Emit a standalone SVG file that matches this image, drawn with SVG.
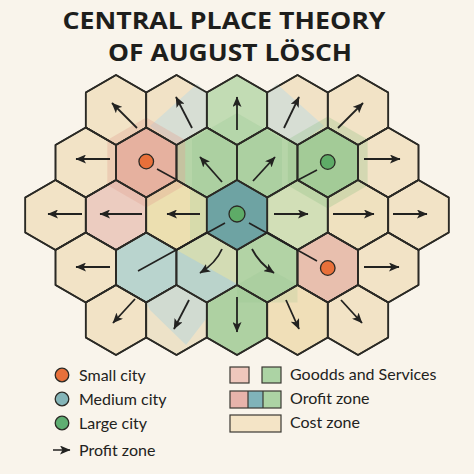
<svg xmlns="http://www.w3.org/2000/svg" xmlns:xlink="http://www.w3.org/1999/xlink" width="474" height="474" viewBox="0 0 474 474">
<style>
.hex{stroke:#2b2a25;stroke-width:1.6;stroke-linejoin:round}
.edge{fill:none;stroke:#2b2a25;stroke-width:1.6;stroke-linejoin:round}
.arr{fill:none;stroke:#222220;stroke-width:1.8;marker-end:url(#ah)}
.ln{fill:none;stroke:#222220;stroke-width:1.6}
.title{font-family:"Open Sans","Liberation Sans",sans-serif;font-weight:700;font-size:23px;fill:#1e1e1c}
.lg{font-family:Lato,"Open Sans","Liberation Sans",sans-serif;font-size:16px;fill:#222220}
.dot{stroke:#2b2a25;stroke-width:1.3}
.sw{stroke:#3a3833;stroke-width:1.2}
</style>
<defs>
<path id="hx" d="M0,-35 L30.25,-17.5 L30.25,17.5 L0,35 L-30.25,17.5 L-30.25,-17.5 Z"/>
<marker id="ah" markerUnits="userSpaceOnUse" markerWidth="11" markerHeight="9" refX="10" refY="4.5" orient="auto">
<path d="M0,0 L10.5,4.5 L0,9 L2.5,4.5 Z" fill="#222220"/>
</marker>
</defs>
<rect width="474" height="474" fill="#f9f4eb"/>
<text class="title" x="224" y="29" text-anchor="middle" textLength="323" lengthAdjust="spacingAndGlyphs">CENTRAL PLACE THEORY</text>
<text class="title" x="230" y="61" text-anchor="middle" textLength="244" lengthAdjust="spacingAndGlyphs">OF AUGUST LÖSCH</text>

<g id="hexes">
<g id="A1"><use xlink:href="#hx" href="#hx" x="116" y="110" class="hex" fill="#f2e3c6"/></g>
<g id="A2"><use xlink:href="#hx" href="#hx" x="176.5" y="110" class="hex" fill="#f1e2c6"/></g>
<g id="A3"><use xlink:href="#hx" href="#hx" x="237" y="110" class="hex" fill="#c2dcb4"/></g>
<g id="A4"><use xlink:href="#hx" href="#hx" x="297.5" y="110" class="hex" fill="#f1e2c6"/></g>
<g id="A5"><use xlink:href="#hx" href="#hx" x="358" y="110" class="hex" fill="#f2e3c6"/></g>
<g id="B1"><use xlink:href="#hx" href="#hx" x="85.75" y="162.5" class="hex" fill="#f2e3c6"/></g>
<g id="B2"><use xlink:href="#hx" href="#hx" x="146.25" y="162.5" class="hex" fill="#e8b9a7"/></g>
<g id="B3"><use xlink:href="#hx" href="#hx" x="206.75" y="162.5" class="hex" fill="#b6d5a8"/></g>
<g id="B4"><use xlink:href="#hx" href="#hx" x="267.25" y="162.5" class="hex" fill="#b6d5a8"/></g>
<g id="B5"><use xlink:href="#hx" href="#hx" x="327.75" y="162.5" class="hex" fill="#acd0a0"/></g>
<g id="B6"><use xlink:href="#hx" href="#hx" x="388.25" y="162.5" class="hex" fill="#f2e3c6"/></g>
<g id="C1"><use xlink:href="#hx" href="#hx" x="55.5" y="215" class="hex" fill="#f2e3c6"/></g>
<g id="C2"><use xlink:href="#hx" href="#hx" x="116" y="215" class="hex" fill="#ecccc0"/></g>
<g id="C3"><use xlink:href="#hx" href="#hx" x="176.5" y="215" class="hex" fill="#ecdfb0"/></g>
<g id="C5"><use xlink:href="#hx" href="#hx" x="297.5" y="215" class="hex" fill="#d2dfb7"/></g>
<g id="C6"><use xlink:href="#hx" href="#hx" x="358" y="215" class="hex" fill="#efe1bf"/></g>
<g id="C7"><use xlink:href="#hx" href="#hx" x="418.5" y="215" class="hex" fill="#f2e3c6"/></g>
<g id="D1"><use xlink:href="#hx" href="#hx" x="85.75" y="267.5" class="hex" fill="#f2e3c6"/></g>
<g id="D2"><use xlink:href="#hx" href="#hx" x="146.25" y="267.5" class="hex" fill="#b9d4ce"/></g>
<g id="D3"><use xlink:href="#hx" href="#hx" x="206.75" y="267.5" class="hex" fill="#d3dcb4"/></g>
<g id="D4"><use xlink:href="#hx" href="#hx" x="267.25" y="267.5" class="hex" fill="#b2d3a5"/></g>
<g id="D5"><use xlink:href="#hx" href="#hx" x="327.75" y="267.5" class="hex" fill="#e8bfae"/></g>
<g id="D6"><use xlink:href="#hx" href="#hx" x="388.25" y="267.5" class="hex" fill="#f2e3c6"/></g>
<g id="E1"><use xlink:href="#hx" href="#hx" x="116" y="320" class="hex" fill="#f2e3c6"/></g>
<g id="E2"><use xlink:href="#hx" href="#hx" x="176.5" y="320" class="hex" fill="#ede2c8"/></g>
<g id="E3"><use xlink:href="#hx" href="#hx" x="237" y="320" class="hex" fill="#aed1a2"/></g>
<g id="E4"><use xlink:href="#hx" href="#hx" x="297.5" y="320" class="hex" fill="#f0dfb8"/></g>
<g id="E5"><use xlink:href="#hx" href="#hx" x="358" y="320" class="hex" fill="#f2e3c6"/></g>
</g>

<g id="zones">
<polygon points="150,126 197,84 206.75,92.5 206.75,127.5 176.5,145" fill="#d2ddd6" opacity="0.85"/>
<polygon points="267.25,92.5 277,84 324,126 297.5,145 267.25,127.5" fill="#d2ddd6" opacity="0.85"/>
<polygon points="176.5,250 237,284 206.75,302.5 176.5,285" fill="#b7d2cd" opacity="0.9"/>
<polygon points="146.25,302.5 176.5,285 206.75,302.5 206.75,318 186,345 150,310" fill="#c9dad3" opacity="0.8"/>
<polygon points="190,190 206.75,197.5 206.75,232.5 190,240" fill="#c9d9a9" opacity="0.6"/>
<polygon points="237,113 282,139 282,191 237,217 192,191 192,139" fill="#8fc48a" opacity="0.25"/>
<polygon points="146.25,117.5 185.2,140 185.2,185 146.25,207.5 107.3,185 107.3,140" fill="#e2a491" opacity="0.35"/>
<polygon points="327.75,116.5 367.6,139.5 367.6,185.5 327.75,208.5 287.9,185.5 287.9,139.5" fill="#8dbf86" opacity="0.3"/>
<polygon points="237,285 267.25,267.5 297.5,285 297.5,302.5 267.25,302.5 237,302.5" fill="#8fc48a" opacity="0.2"/>
</g>

<g id="C4"><use xlink:href="#hx" href="#hx" x="237" y="215" class="hex" fill="#6ea3a3"/></g>

<g id="grid-edges">
<use xlink:href="#hx" href="#hx" x="116" y="110" class="edge"/>
<use xlink:href="#hx" href="#hx" x="176.5" y="110" class="edge"/>
<use xlink:href="#hx" href="#hx" x="237" y="110" class="edge"/>
<use xlink:href="#hx" href="#hx" x="297.5" y="110" class="edge"/>
<use xlink:href="#hx" href="#hx" x="358" y="110" class="edge"/>
<use xlink:href="#hx" href="#hx" x="85.75" y="162.5" class="edge"/>
<use xlink:href="#hx" href="#hx" x="146.25" y="162.5" class="edge"/>
<use xlink:href="#hx" href="#hx" x="206.75" y="162.5" class="edge"/>
<use xlink:href="#hx" href="#hx" x="267.25" y="162.5" class="edge"/>
<use xlink:href="#hx" href="#hx" x="327.75" y="162.5" class="edge"/>
<use xlink:href="#hx" href="#hx" x="388.25" y="162.5" class="edge"/>
<use xlink:href="#hx" href="#hx" x="55.5" y="215" class="edge"/>
<use xlink:href="#hx" href="#hx" x="116" y="215" class="edge"/>
<use xlink:href="#hx" href="#hx" x="176.5" y="215" class="edge"/>
<use xlink:href="#hx" href="#hx" x="297.5" y="215" class="edge"/>
<use xlink:href="#hx" href="#hx" x="358" y="215" class="edge"/>
<use xlink:href="#hx" href="#hx" x="418.5" y="215" class="edge"/>
<use xlink:href="#hx" href="#hx" x="85.75" y="267.5" class="edge"/>
<use xlink:href="#hx" href="#hx" x="146.25" y="267.5" class="edge"/>
<use xlink:href="#hx" href="#hx" x="206.75" y="267.5" class="edge"/>
<use xlink:href="#hx" href="#hx" x="267.25" y="267.5" class="edge"/>
<use xlink:href="#hx" href="#hx" x="327.75" y="267.5" class="edge"/>
<use xlink:href="#hx" href="#hx" x="388.25" y="267.5" class="edge"/>
<use xlink:href="#hx" href="#hx" x="116" y="320" class="edge"/>
<use xlink:href="#hx" href="#hx" x="176.5" y="320" class="edge"/>
<use xlink:href="#hx" href="#hx" x="237" y="320" class="edge"/>
<use xlink:href="#hx" href="#hx" x="297.5" y="320" class="edge"/>
<use xlink:href="#hx" href="#hx" x="358" y="320" class="edge"/>
</g>

<g id="connectors">
<line class="arr" x1="137" y1="128" x2="112" y2="103"/>
<line class="arr" x1="192" y1="128" x2="176" y2="97"/>
<line class="arr" x1="237" y1="130" x2="237" y2="97"/>
<line class="arr" x1="284" y1="128" x2="299" y2="97"/>
<line class="arr" x1="338" y1="128" x2="363" y2="103"/>
<line class="arr" x1="110" y1="159" x2="76" y2="159"/>
<line class="arr" x1="222" y1="182" x2="200" y2="157"/>
<line class="arr" x1="253" y1="181" x2="275" y2="157"/>
<line class="arr" x1="364" y1="159" x2="400" y2="159"/>
<line class="arr" x1="82" y1="214" x2="48" y2="214"/>
<line class="arr" x1="142" y1="214" x2="100" y2="214"/>
<line class="arr" x1="200" y1="214" x2="167" y2="214"/>
<line class="arr" x1="274" y1="214" x2="308" y2="214"/>
<line class="arr" x1="333" y1="214" x2="374" y2="214"/>
<line class="arr" x1="393" y1="214" x2="427" y2="214"/>
<line class="arr" x1="110" y1="267" x2="76" y2="267"/>
<path class="arr" d="M222,249 Q216,263 200,273"/>
<path class="arr" d="M252,249 Q259,263 274,273"/>
<line class="arr" x1="364" y1="267" x2="399" y2="267"/>
<line class="arr" x1="135" y1="299" x2="113" y2="323"/>
<line class="arr" x1="189" y1="300" x2="174" y2="329"/>
<line class="arr" x1="237" y1="297" x2="237" y2="332"/>
<line class="arr" x1="286" y1="300" x2="299" y2="329"/>
<line class="arr" x1="341" y1="300" x2="362" y2="323"/>
<line class="ln" x1="157" y1="169" x2="177" y2="180"/>
<line class="ln" x1="317" y1="170" x2="298" y2="180"/>
<line class="ln" x1="225" y1="223" x2="138" y2="271"/>
<line class="ln" x1="249" y1="223" x2="317" y2="261"/>
</g>

<g id="cities">
<circle class="dot" cx="146.25" cy="161.5" r="7.3" fill="#e8703a"/>
<circle class="dot" cx="327.75" cy="162" r="7.3" fill="#5eab67"/>
<circle class="dot" cx="237" cy="214" r="8" fill="#5eab67"/>
<circle class="dot" cx="327.75" cy="268" r="7.3" fill="#e8703a"/>
</g>

<g id="legend">
<circle class="dot" cx="62" cy="375" r="6.8" fill="#e8703a"/>
<text class="lg" x="79" y="381">Small city</text>
<circle class="dot" cx="62" cy="399" r="6.8" fill="#85b5b8"/>
<text class="lg" x="79" y="405">Medium city</text>
<circle class="dot" cx="62" cy="423" r="6.8" fill="#5fae72"/>
<text class="lg" x="79" y="429">Large city</text>
<line class="arr" x1="53" y1="450" x2="70" y2="450" style="stroke-width:1.5"/>
<text class="lg" x="79" y="456">Profit zone</text>
<rect class="sw" x="230" y="367" width="19" height="16" fill="#efc7bc"/>
<rect class="sw" x="262" y="367" width="19" height="16" fill="#acd3a4"/>
<text class="lg" x="290" y="380">Goodds and Services</text>
<rect x="230" y="391" width="18" height="17" fill="#e7b3ab"/>
<rect x="248" y="391" width="15" height="17" fill="#80b3b9"/>
<rect x="263" y="391" width="18" height="17" fill="#acd3a4"/>
<rect class="sw" x="230" y="391" width="51" height="17" fill="none"/>
<line class="sw" x1="248" y1="391" x2="248" y2="408"/>
<line class="sw" x1="263" y1="391" x2="263" y2="408"/>
<text class="lg" x="290" y="404">Orofit zone</text>
<rect class="sw" x="230" y="415" width="51" height="17" fill="#f4e4c6"/>
<text class="lg" x="290" y="428">Cost zone</text>
</g>
</svg>
